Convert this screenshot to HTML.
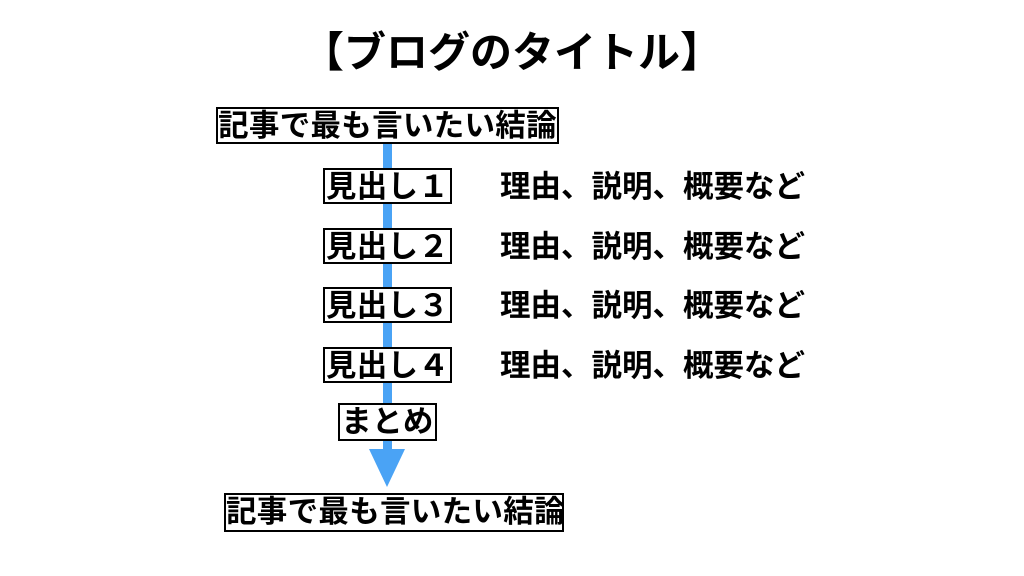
<!DOCTYPE html>
<html><head><meta charset="utf-8"><style>
body{margin:0;width:1024px;height:576px;background:#fff;position:relative;overflow:hidden;font-family:"Liberation Sans","Noto Sans CJK JP",sans-serif;font-weight:bold;color:#000}
.t{position:absolute;white-space:nowrap;line-height:1}
.b{position:absolute;border:2px solid #000;background:#fff;box-sizing:border-box;font-size:30.5px;line-height:34px;text-align:center;white-space:nowrap;letter-spacing:0.3px}
</style></head><body>
<div class="t" style="left:0;width:1024px;text-align:center;top:32px;font-size:42px">【ブログのタイトル】</div>
<div style="position:absolute;left:383px;top:140px;width:9px;height:312px;background:#4aa3f5"></div>
<svg style="position:absolute;left:0;top:0" width="1024" height="576"><polygon points="369,449 405,449 387,487" fill="#4aa3f5"/></svg>
<div class="b" style="left:216px;top:107px;width:343px;height:37px">記事で最も言いたい結論</div>
<div class="b" style="left:323px;top:168px;width:129px;height:36px">見出し１</div>
<div class="b" style="left:323px;top:228px;width:129px;height:36px">見出し２</div>
<div class="b" style="left:323px;top:287px;width:129px;height:36px">見出し３</div>
<div class="b" style="left:323px;top:347px;width:129px;height:36px">見出し４</div>
<div class="b" style="left:338px;top:403px;width:99px;height:38px">まとめ</div>
<div class="b" style="left:224px;top:493px;width:340px;height:39px">記事で最も言いたい結論</div>
<div class="t" style="left:500px;top:172px;font-size:30.5px">理由、説明、概要など</div>
<div class="t" style="left:500px;top:232px;font-size:30.5px">理由、説明、概要など</div>
<div class="t" style="left:500px;top:291px;font-size:30.5px">理由、説明、概要など</div>
<div class="t" style="left:500px;top:351px;font-size:30.5px">理由、説明、概要など</div>
</body></html>
